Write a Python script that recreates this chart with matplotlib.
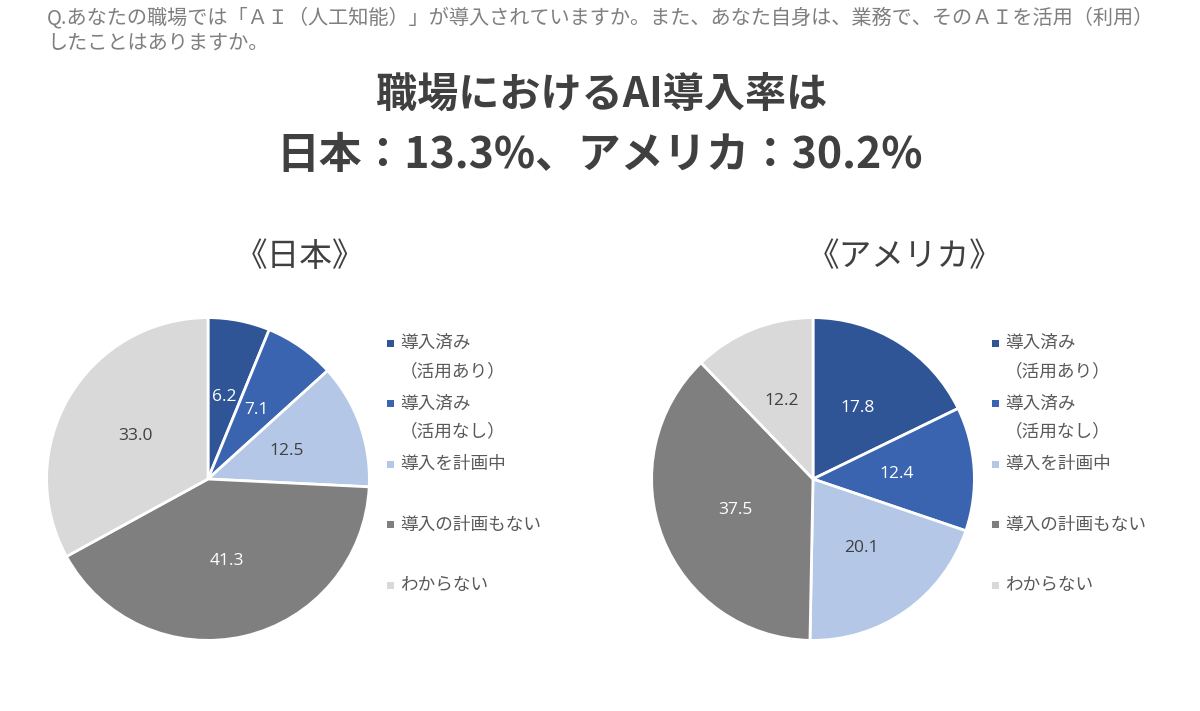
import matplotlib
matplotlib.use("Agg")
import matplotlib.pyplot as plt
from matplotlib.patches import Rectangle

plt.rcParams["font.family"] = ["Noto Sans CJK JP", "DejaVu Sans"]

W, H = 1200, 711

question = ["Q.あなたの職場では「ＡＩ（人工知能）」が導入されていますか。また、あなた自身は、業務で、そのＡＩを活用（利用）",
            "したことはありますか。"]
headline = ["職場におけるAI導入率は", "日本：13.3%、アメリカ：30.2%"]

categories = ["導入済み\n（活用あり）", "導入済み\n（活用なし）", "導入を計画中", "導入の計画もない", "わからない"]
japan = [6.2, 7.1, 12.5, 41.3, 33.0]
usa = [17.8, 12.4, 20.1, 37.5, 12.2]

colors = ["#2F5597", "#3A64B0", "#B4C7E7", "#7F7F7F", "#D9D9D9"]
label_colors = ["white", "white", "#404040", "white", "#404040"]

fig = plt.figure(figsize=(W / 100, H / 100), dpi=100)

# overlay in pixel coordinates for text and legends
ov = fig.add_axes([0, 0, 1, 1])
ov.set_xlim(0, W); ov.set_ylim(H, 0)
ov.axis("off")

ov.text(47, 18, question[0], fontsize=14.5, color="#7F7F7F", va="center")
ov.text(47, 43, question[1], fontsize=14.5, color="#7F7F7F", va="center")
ov.text(602, 96, headline[0], fontsize=29.6, fontweight="bold", color="#404040", ha="center", va="center")
ov.text(600, 155, headline[1], fontsize=30.8, fontweight="bold", color="#404040", ha="center", va="center")


def draw_pie(cx, cy, r, values, title, tx, legend_x):
    ax = fig.add_axes([(cx - r) / W, (H - cy - r) / H, 2 * r / W, 2 * r / H])
    wedges, texts = ax.pie(values, colors=colors, startangle=90, counterclock=False,
                           labels=[f"{v:.1f}" for v in values], labeldistance=0.52,
                           wedgeprops=dict(edgecolor="white", linewidth=2))
    for t, c in zip(texts, label_colors):
        t.set_ha("center"); t.set_va("center")
        t.set_color(c); t.set_fontsize(12.5)
        t.set_family(["Open Sans", "DejaVu Sans"])
    ax.set_xlim(-1.01, 1.01); ax.set_ylim(-1.01, 1.01)
    ax.axis("off")
    ov.text(tx, 257, title, fontsize=23.5, color="#404040", ha="center", va="center")
    # legend, equally spaced entries as in the source chart
    for i, (lab, col) in enumerate(zip(categories, colors)):
        y = 343 + i * 60.5
        ov.add_patch(Rectangle((legend_x - 3.5, y - 3.5), 7, 7, color=col, lw=0))
        for j, line in enumerate(lab.split("\n")):
            ov.text(legend_x + 10, y + j * 28, line, fontsize=12.7, color="#595959", va="center")


draw_pie(208, 479, 163, japan, "《日本》", 300, 390)
draw_pie(813, 479, 163, usa, "《アメリカ》", 905, 995)

fig.savefig("out.png", dpi=100)
